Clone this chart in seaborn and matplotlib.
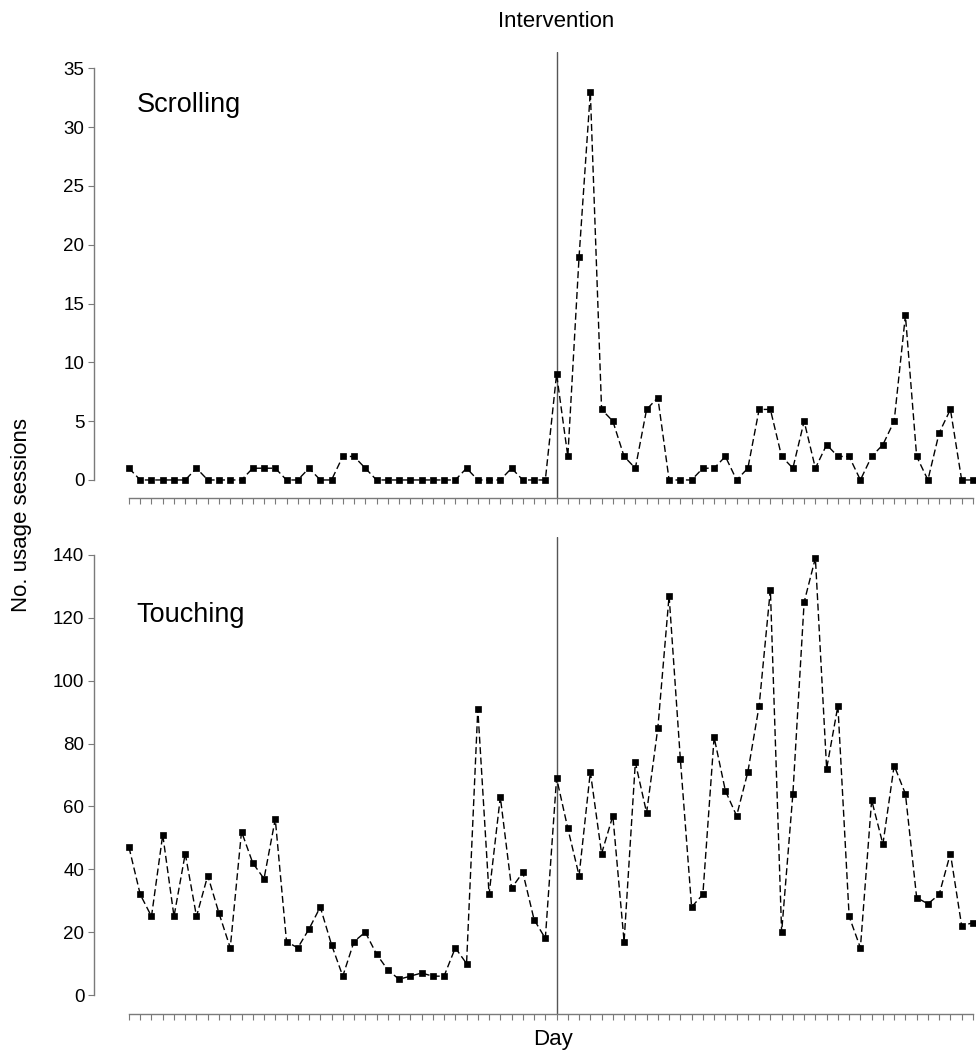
import pandas as pd
import numpy as np
import matplotlib
matplotlib.use("Agg")
import matplotlib.pyplot as plt
import seaborn as sns

# daily counts, one value per day (76 days), intervention starts on day 39
days = list(range(1, 77))
scrolling = [1, 0, 0, 0, 0, 0, 1, 0, 0, 0, 0, 1, 1, 1, 0, 0, 1, 0, 0, 2,
             2, 1, 0, 0, 0, 0, 0, 0, 0, 0, 1, 0, 0, 0, 1, 0, 0, 0,
             9, 2, 19, 33, 6, 5, 2, 1, 6, 7, 0, 0, 0, 1, 1, 2, 0, 1, 6, 6,
             2, 1, 5, 1, 3, 2, 2, 0, 2, 3, 5, 14, 2, 0, 4, 6, 0, 0]
touching = [47, 32, 25, 51, 25, 45, 25, 38, 26, 15, 52, 42, 37, 56, 17, 15, 21, 28, 16, 6,
            17, 20, 13, 8, 5, 6, 7, 6, 6, 15, 10, 91, 32, 63, 34, 39, 24, 18,
            69, 53, 38, 71, 45, 57, 17, 74, 58, 85, 127, 75, 28, 32, 82, 65, 57, 71,
            92, 129, 20, 64, 125, 139, 72, 92, 25, 15, 62, 48, 73, 64, 31, 29, 32, 45,
            22, 23]
intervention_day = 39
y_ticks_top = list(range(0, 36, 5))
y_ticks_bot = list(range(0, 141, 20))

sns.set_style("ticks")
plt.rcParams['font.family'] = ['Liberation Sans', 'DejaVu Sans']
plt.rcParams['text.color'] = 'black'
plt.rcParams['ytick.labelcolor'] = 'black'

df = pd.DataFrame({"Day": days, "Scrolling": scrolling, "Touching": touching})

fig = plt.figure(figsize=(9.77, 10.53), dpi=100)
ax_top = fig.add_axes([0.0962, 0.5271, 0.9017, 0.4236])
ax_bot = fig.add_axes([0.0962, 0.0370, 0.9017, 0.4530])

axis_grey = "#7a7a7a"

setup = [
    (ax_top, "Scrolling", y_ticks_top, (-1.53, 36.4), 31.9),
    (ax_bot, "Touching", y_ticks_bot, (-6.05, 145.7), 121),
]

for ax, col, yt, ylim, label_y in setup:
    ax.axvline(intervention_day, color="#555555", lw=1.0, zorder=1)
    sns.lineplot(data=df, x="Day", y=col, ax=ax, color="black", lw=1.0,
                 linestyle=(0, (5, 2.5)), marker="s", markersize=4.2,
                 markeredgecolor="black", markeredgewidth=0.5, zorder=3)
    ax.set_xlim(-2.11, 76.18)
    ax.set_ylim(*ylim)
    ax.set_yticks(yt)
    ax.set_xticks(days)
    ax.set_xticklabels([])
    ax.set_xlabel("")
    ax.set_ylabel("")
    sns.despine(ax=ax)
    ax.spines["left"].set_bounds(yt[0], yt[-1])
    ax.spines["bottom"].set_bounds(days[0], days[-1])
    for s in ("left", "bottom"):
        ax.spines[s].set_color(axis_grey)
        ax.spines[s].set_linewidth(1.0)
    ax.tick_params(axis="y", length=4, width=0.8, color=axis_grey,
                   labelsize=13.5, labelcolor="black", pad=3)
    ax.tick_params(axis="x", length=4.5, width=0.8, color=axis_grey)
    ax.text(1.7, label_y, col, fontsize=19.5, ha="left", va="center", color="black")

ax_top.text(intervention_day, 39.0, "Intervention", fontsize=16,
            ha="center", va="center", clip_on=False, color="black")
fig.text(553 / 977, 1 - 1040 / 1053, "Day", fontsize=16, ha="center", va="center",
         color="black")
fig.text(22 / 977, 1 - 515 / 1053, "No. usage sessions", fontsize=16,
         ha="center", va="center", rotation=90, color="black")

fig.savefig("out.png", dpi=100)
